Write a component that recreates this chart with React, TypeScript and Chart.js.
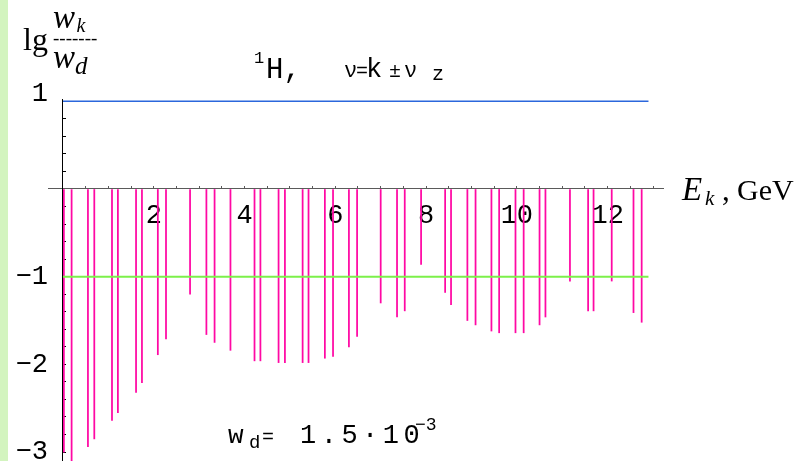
import { useEffect, useRef } from "react";
import { Chart, registerables } from "chart.js";

Chart.register(...registerables);

// Kinetic energy of each resonance line, GeV
const energies = [
  0.02, 0.19, 0.55, 0.69, 1.08, 1.21, 1.61, 1.74, 2.09, 2.27,
  2.8, 3.16, 3.34, 3.69, 4.22, 4.35, 4.75, 4.89, 5.28, 5.41,
  5.77, 5.95, 6.3, 6.48, 7.0, 7.36, 7.53, 7.89, 8.42, 8.55,
  8.91, 9.09, 9.44, 9.61, 9.97, 10.15, 10.5, 10.63, 11.17, 11.57,
  11.69, 12.09, 12.57, 12.75,
];

// lg(w_k / w_d) for each line
const lgRatios = [
  -3.0, -3.2, -2.94, -2.85, -2.64, -2.55, -2.32, -2.21, -1.89, -1.71,
  -1.2, -1.66, -1.75, -1.84, -1.96, -1.96, -1.98, -1.98, -1.98, -1.98,
  -1.93, -1.91, -1.8, -1.68, -1.3, -1.46, -1.39, -0.86, -1.18, -1.32,
  -1.5, -1.55, -1.62, -1.64, -1.64, -1.64, -1.55, -1.46, -1.05, -1.39,
  -1.39, -1.05, -1.41, -1.52,
];

// Horizontal reference levels and their extent in E_k
const upperLevel = [1, 1];
const lowerLevel = [-1, -1];
const levelSpan = [0, 12.9];

// Axis labels
const xTickLabels = [2, 4, 6, 8, 10, 12];
const yTickLabels = [1, -1, -2, -3];

const X_MIN = -0.33;
const X_MAX = 13.22;
const Y_MIN = -3.102;
const Y_MAX = 1.026;

const MONO = '"Liberation Mono", "DejaVu Sans Mono", monospace';
const SERIF = '"Liberation Serif", "DejaVu Serif", serif';

const near = (a: number, b: number) => Math.abs(a - b) < 1e-6;

const annotations = {
  id: "annotations",
  beforeDraw(chart: Chart) {
    const ctx = chart.ctx;
    ctx.save();
    ctx.fillStyle = "#fff";
    ctx.fillRect(0, 0, chart.width, chart.height);
    ctx.fillStyle = "#d3f4bf";
    ctx.fillRect(0, 0, 8, chart.height);
    ctx.restore();
  },
  afterDraw(chart: Chart) {
    const ctx = chart.ctx;
    ctx.save();
    ctx.fillStyle = "#000";
    ctx.textBaseline = "alphabetic";
    ctx.textAlign = "left";
    const put = (text: string, x: number, y: number, font: string, spacing = 0) => {
      ctx.font = font;
      (ctx as any).letterSpacing = spacing + "px";
      ctx.fillText(text, x, y);
    };

    // y-axis title: lg (w_k / w_d)
    put("lg", 23, 49.5, `32px ${SERIF}`);
    put("w", 53, 28.3, `italic 33px ${SERIF}`);
    put("k", 76.5, 31.7, `italic 20px ${SERIF}`);
    put("-------", 53, 43.5, `19px ${SERIF}`);
    put("w", 53, 68.3, `italic 33px ${SERIF}`);
    put("d", 75, 74, `italic 25px ${SERIF}`);

    // header
    put("1", 254, 63, `17px ${MONO}`);
    put("H,", 266, 78, `29px ${MONO}`);
    put("\u03bd", 344, 77, `22px ${MONO}`);
    put("=", 356, 77, `20px ${MONO}`);
    put("k", 366, 77, `27px ${MONO}`);
    put("\u00b1", 389, 77, `20px ${MONO}`);
    put("\u03bd", 404, 77, `22px ${MONO}`);
    put("z", 432, 80, `20px ${MONO}`);

    // x-axis title
    put("E", 682, 200, `italic 33px ${SERIF}`);
    put("k", 705, 205, `italic 21px ${SERIF}`);
    put(",", 722, 200, `31px ${SERIF}`);
    put("GeV", 737, 200, `30px ${SERIF}`);

    // normalisation
    put("w", 228, 443, `26px ${MONO}`);
    put("d", 249, 448, `19px ${MONO}`);
    put("=", 262, 443, `20px ${MONO}`);
    put("1.5\u00b710", 300, 443, `27px ${MONO}`, 4.5);
    put("\u22123", 415, 430, `18px ${MONO}`);

    ctx.restore();
  },
};

export default function App() {
  const canvasRef = useRef<HTMLCanvasElement | null>(null);

  useEffect(() => {
    document.body.style.margin = "0";
    const canvas = canvasRef.current;
    if (!canvas) return;

    const lines = energies.map((e, i) => ({ x: e, y: lgRatios[i] }));

    const chart = new Chart(canvas, {
      type: "bar",
      data: {
        datasets: [
          {
            type: "line",
            data: levelSpan.map((x, i) => ({ x, y: upperLevel[i] })),
            borderColor: "#2b67dc",
            borderWidth: 1.4,
            pointRadius: 0,
            yAxisID: "y",
            xAxisID: "x",
          } as any,
          {
            type: "line",
            data: levelSpan.map((x, i) => ({ x, y: lowerLevel[i] })),
            borderColor: "#7cf04a",
            borderWidth: 2,
            pointRadius: 0,
            yAxisID: "y",
            xAxisID: "x",
          } as any,
          {
            type: "bar",
            data: lines,
            backgroundColor: "#ff08a4",
            borderWidth: 0,
            barThickness: 1.1,
            yAxisID: "y",
            xAxisID: "x",
          } as any,
        ],
      },
      options: {
        responsive: false,
        animation: false,
        events: [],
        layout: {
          autoPadding: false,
          padding: { left: 0, right: 137, top: 99, bottom: 0 },
        },
        plugins: {
          legend: { display: false },
          tooltip: { enabled: false },
        },
        scales: {
          x: {
            type: "linear",
            min: X_MIN,
            max: X_MAX,
            offset: false,
            position: { y: 0 },
            border: { color: "#5a5a5a", width: 1 },
            grid: {
              offset: false,
              drawOnChartArea: false,
              drawTicks: true,
              tickLength: -3,
              color: "#5a5a5a",
            },
            ticks: {
              stepSize: 0.5,
              includeBounds: false,
              autoSkip: false,
              maxRotation: 0,
              padding: 14,
              color: "#000",
              font: { family: MONO, size: 27 },
              callback: (v: any) =>
                xTickLabels.some((t) => near(t, Number(v))) ? String(Math.round(Number(v))) : "",
            },
          } as any,
          y: {
            type: "linear",
            min: Y_MIN,
            max: Y_MAX,
            position: { x: 0 },
            border: { color: "#000", width: 1 },
            grid: {
              drawOnChartArea: false,
              drawTicks: true,
              tickLength: -4,
              color: "#000",
            },
            ticks: { display: false, stepSize: 0.2, includeBounds: false, autoSkip: false },
          } as any,
          yLabels: {
            type: "linear",
            axis: "y",
            position: "left",
            min: Y_MIN,
            max: Y_MAX,
            border: { display: false },
            grid: { display: false, drawTicks: false },
            afterFit: (s: any) => {
              s.width = 48;
              s.paddingTop = 0;
              s.paddingBottom = 0;
            },
            ticks: {
              stepSize: 1,
              includeBounds: false,
              autoSkip: false,
              padding: 0,
              color: "#000",
              font: (c: any) => ({
                family: MONO,
                size: 27,
                lineHeight: c.tick && near(c.tick.value, 1) ? "15px" : 1.2,
              }),
              callback: (v: any) => {
                const n = Number(v);
                const hit = yTickLabels.find((t) => near(t, n));
                if (hit === undefined) return "";
                const txt = hit < 0 ? "\u2212" + Math.abs(hit) : String(hit);
                return hit === 1 ? [txt, ""] : txt;
              },
            },
          } as any,
        },
      },
      plugins: [annotations],
    });

    return () => chart.destroy();
  }, []);

  return (
    <div style={{ width: 800, height: 461 }}>
      <canvas ref={canvasRef} width={800} height={461} style={{ display: "block" }} />
    </div>
  );
}
